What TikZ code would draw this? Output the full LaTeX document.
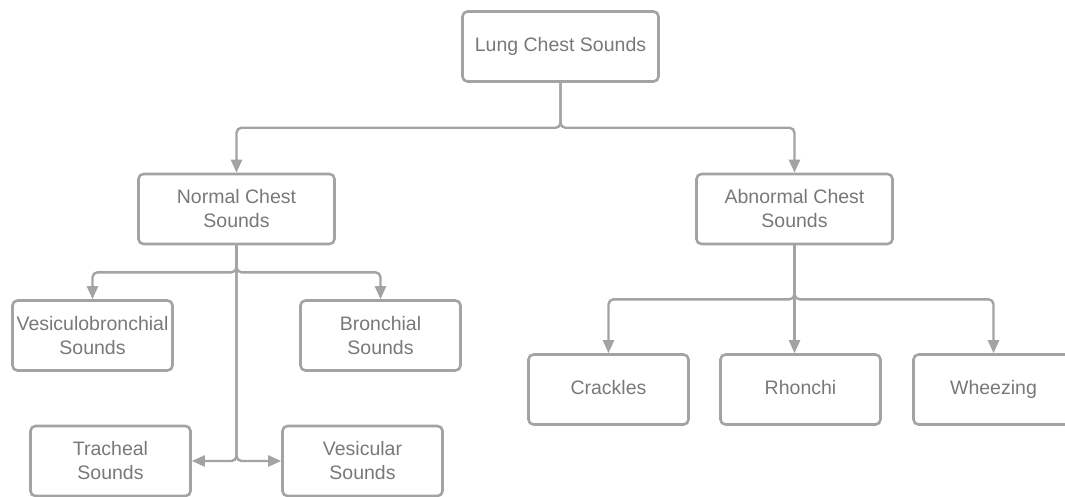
\documentclass[tikz,border=0pt]{standalone}
\usepackage{fontspec}
\setmainfont{Liberation Sans}
\usepackage{xcolor}
\definecolor{lineg}{RGB}{163,163,163}
\definecolor{textg}{RGB}{120,120,120}
\usepackage{tikz}
\usetikzlibrary{arrows.meta,positioning}

\begin{document}
\begin{tikzpicture}[
    x=1pt, y=-1pt,
    box/.style={draw=lineg, line width=2.6pt, rounded corners=5pt, minimum width=196pt, minimum height=70pt, inner sep=1pt, align=center, text=textg, font=\fontsize{19.5}{24}\selectfont},
    leaf/.style={box, minimum width=160pt},
    oneline/.style={leaf, text height=14pt, text depth=4pt},
    arr/.style={-{Triangle[length=13pt, width=11pt]}, line width=2.4pt, lineg, rounded corners=5pt}
]
\useasboundingbox (0,0) rectangle (1065,497);

\node[box] (lung) at (560.5,46.5) {Lung Chest Sounds};
\node[box] (normal) at (236.5,209) {Normal Chest\\Sounds};
\node[box] (abnormal) at (794.5,209) {Abnormal Chest\\Sounds};

\node[leaf] (vesbron) at (92.5,335.5) {Vesiculobronchial\\Sounds};
\node[leaf] (bronch) at (380.5,335.5) {Bronchial\\Sounds};
\node[leaf] (trach) at (110.5,461) {Tracheal\\Sounds};
\node[leaf] (vesic) at (362.5,461) {Vesicular\\Sounds};

\node[oneline] (crack) at (608.5,389.5) {Crackles};
\node[oneline] (rhon) at (800.5,389.5) {Rhonchi};
\node[oneline] (wheez) at (993.5,389.5) {Wheezing};

% root
\draw[arr] (lung.south) -- ++(0,45) -| (normal.north);
\draw[arr] (lung.south) -- ++(0,45) -| (abnormal.north);

% normal sounds
\draw[arr] (normal.south) -- ++(0,27) -| (vesbron.north);
\draw[arr] (normal.south) -- ++(0,27) -| (bronch.north);
\draw[arr] (normal.south) |- (trach.east);
\draw[arr] (normal.south) |- (vesic.west);

% abnormal sounds
\draw[arr] (abnormal.south) -- ++(0,54) -| (crack.north);
\draw[arr] (abnormal.south) -- (abnormal.south |- rhon.north);
\draw[arr] (abnormal.south) -- ++(0,54) -| (wheez.north);
\end{tikzpicture}
\end{document}
